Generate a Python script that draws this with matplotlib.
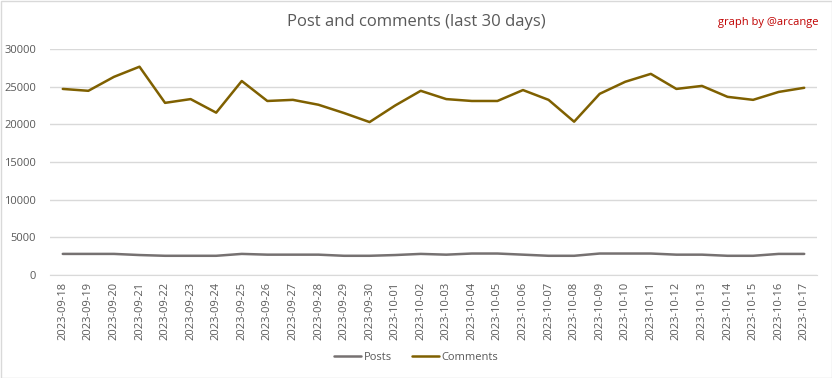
import matplotlib
matplotlib.use("Agg")
import matplotlib.pyplot as plt
from matplotlib.patches import Rectangle

dates = ["2023-09-18","2023-09-19","2023-09-20","2023-09-21","2023-09-22","2023-09-23",
         "2023-09-24","2023-09-25","2023-09-26","2023-09-27","2023-09-28","2023-09-29",
         "2023-09-30","2023-10-01","2023-10-02","2023-10-03","2023-10-04","2023-10-05",
         "2023-10-06","2023-10-07","2023-10-08","2023-10-09","2023-10-10","2023-10-11",
         "2023-10-12","2023-10-13","2023-10-14","2023-10-15","2023-10-16","2023-10-17"]
posts = [2800, 2800, 2800, 2650, 2550, 2550, 2550, 2800, 2700, 2700, 2700, 2550,
         2550, 2650, 2800, 2700, 2850, 2850, 2700, 2550, 2550, 2850, 2850, 2850,
         2700, 2700, 2550, 2550, 2800, 2800]
comments = [24700, 24450, 26300, 27650, 22850, 23350, 21550, 25750, 23100, 23250,
            22600, 21500, 20300, 22500, 24450, 23350, 23100, 23100, 24550, 23250,
            20350, 24050, 25650, 26700, 24700, 25100, 23650, 23250, 24300, 24850]
yticks = [0, 5000, 10000, 15000, 20000, 25000, 30000]

plt.rcParams['font.family'] = ['Open Sans', 'DejaVu Sans']
W, H = 832, 378
fig = plt.figure(figsize=(W/100, H/100), dpi=100)
fig.patches.append(Rectangle((0.5/W, 0.5/H), 1-1/W, 1-1/H, transform=fig.transFigure,
                             fill=False, edgecolor='#D9D9D9', linewidth=1))
ax = fig.add_axes([50/W, 1-275/H, (817-50)/W, (275-49)/H])
x = list(range(len(dates)))
ax.plot(x, posts, color='#767171', linewidth=1.8, label='Posts', solid_capstyle='round')
ax.plot(x, comments, color='#7F6000', linewidth=1.8, label='Comments', solid_capstyle='round')
ax.set_xlim(-0.5, len(dates)-0.5)
ax.set_ylim(0, 30000)
ax.set_yticks(yticks)
ax.set_yticklabels([str(v) for v in yticks])
ax.set_xticks(x)
ax.set_xticklabels(dates, rotation=90)
ax.grid(axis='y', color='#D9D9D9', linewidth=1)
ax.set_axisbelow(True)
for s in ['top', 'right', 'left']:
    ax.spines[s].set_visible(False)
ax.spines['bottom'].set_color('#D9D9D9')
ax.tick_params(axis='both', length=0, colors='#595959', labelsize=8)
ax.tick_params(axis='y', pad=10)
ax.tick_params(axis='x', pad=5)

fig.text(416/W, 1-22/H, 'Post and comments (last 30 days)', ha='center', va='center',
         fontsize=12, color='#595959')
fig.text(818/W, 1-22/H, 'graph by @arcange', ha='right', va='center',
         fontsize=8, color='#C00000')
leg = fig.legend(loc='center', bbox_to_anchor=(416/W, 1-357/H), ncol=2, frameon=False,
                 fontsize=8, handlelength=2.5, columnspacing=1.8, handletextpad=0.2)
for t in leg.get_texts():
    t.set_color('#595959')
fig.savefig('out.png', dpi=100)
